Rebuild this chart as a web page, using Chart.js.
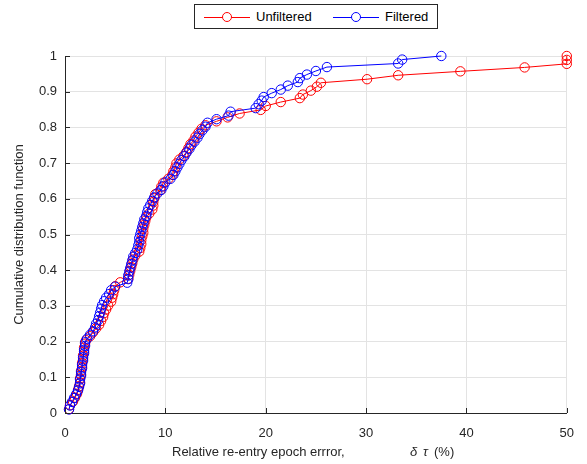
<!DOCTYPE html>
<html>
<head>
<meta charset="utf-8">
<script src="https://cdn.jsdelivr.net/npm/chart.js@4"></script>
<style>
  body { margin: 0; background: #fff; font-family: "Liberation Sans", Arial, sans-serif; }
  #wrap { position: relative; width: 587px; height: 464px; }
  #legend { position: absolute; left: 194px; top: 4px; width: 244px; height: 25px;
            border: 1px solid #262626; background: #fff; box-sizing: border-box;
            font-size: 13px; color: #000; }
  .item { position: absolute; top: 0; height: 23px; line-height: 23px; }
  .swatch { position: absolute; top: 12px; width: 46px; height: 1px; }
  .dot { position: absolute; left: 18px; top: -5px; width: 10px; height: 10px;
         border-radius: 50%; background: #fff; box-sizing: border-box; border: 1px solid; }
  .label { position: absolute; left: 52px; top: 0; white-space: nowrap; }
</style>
</head>
<body>
<div id="wrap">
  <canvas id="chart" width="587" height="464"></canvas>
  <div id="legend">
    <div class="item" style="left:9px">
      <div class="swatch" style="background:#ff0000"><div class="dot" style="border-color:#ff0000"></div></div>
      <span class="label">Unfiltered</span>
    </div>
    <div class="item" style="left:138px">
      <div class="swatch" style="background:#0000ff"><div class="dot" style="border-color:#0000ff"></div></div>
      <span class="label">Filtered</span>
    </div>
  </div>
</div>
<script>
// tick values
const xTicks = [0, 10, 20, 30, 40, 50];
const yTicks = [0, 0.1, 0.2, 0.3, 0.4, 0.5, 0.6, 0.7, 0.8, 0.9, 1];

// unfiltered error samples (%) and their CDF level
const unfilteredX = [0.4,0.5,0.8,1.0,1.2,1.3,1.4,1.5,1.5,1.6,
  1.6,1.7,1.7,1.8,1.8,1.9,1.9,2.0,2.1,2.5,
  2.8,3.1,3.4,3.6,3.8,3.9,4.1,4.3,4.6,4.7,
  4.8,4.9,5.0,5.5,6.3,6.4,6.5,6.6,6.7,6.8,
  7.0,7.4,7.5,7.6,7.6,7.7,7.8,7.8,7.9,8.0,
  8.1,8.4,8.7,8.8,8.8,8.9,9.0,9.5,9.6,9.8,
  10.3,10.7,10.8,11.0,11.1,11.4,11.8,12.1,12.3,12.5,
  12.8,13.0,13.3,13.6,14.0,15.1,16.2,17.4,19.5,20.0,
  21.5,23.4,23.7,24.5,25.1,25.5,30.1,33.2,39.4,45.8,
  50,50,50];
const unfilteredY = [0.011,0.022,0.032,0.043,0.054,0.065,0.075,0.086,0.097,0.108,
  0.118,0.129,0.140,0.151,0.161,0.172,0.183,0.194,0.204,0.215,
  0.226,0.237,0.247,0.258,0.269,0.280,0.290,0.301,0.312,0.323,
  0.333,0.344,0.355,0.366,0.376,0.387,0.398,0.409,0.419,0.430,
  0.441,0.452,0.462,0.473,0.484,0.495,0.505,0.516,0.527,0.538,
  0.548,0.559,0.570,0.581,0.591,0.602,0.613,0.624,0.634,0.645,
  0.656,0.667,0.677,0.688,0.699,0.710,0.720,0.731,0.742,0.753,
  0.763,0.774,0.785,0.796,0.806,0.817,0.828,0.839,0.849,0.860,
  0.871,0.882,0.892,0.903,0.914,0.925,0.935,0.946,0.957,0.968,
  0.978,0.989,1.000];

// filtered error samples (%) and their CDF level
const filteredX = [0.4,0.5,0.7,0.9,1.1,1.3,1.4,1.5,1.5,1.6,
  1.6,1.7,1.7,1.8,1.8,1.9,1.9,2.0,2.0,2.2,
  2.5,2.8,3.0,3.1,3.3,3.4,3.5,3.6,3.7,3.9,
  4.1,4.4,4.6,5.0,6.2,6.3,6.3,6.4,6.5,6.6,
  6.7,6.8,7.0,7.2,7.3,7.4,7.4,7.5,7.6,7.7,
  7.8,7.9,8.1,8.2,8.3,8.5,8.7,8.9,9.2,9.6,
  9.8,10.0,10.5,10.8,11.0,11.2,11.4,11.6,11.9,12.1,
  12.4,12.6,12.9,13.2,13.4,13.7,14.0,14.2,15.1,16.3,
  16.5,19.0,19.3,19.6,19.8,20.6,21.5,22.2,23.2,23.4,
  24.1,25.0,26.1,33.2,33.6,37.5];
const filteredY = [0.010,0.021,0.031,0.042,0.052,0.063,0.073,0.083,0.094,0.104,
  0.115,0.125,0.135,0.146,0.156,0.167,0.177,0.188,0.198,0.208,
  0.219,0.229,0.240,0.250,0.260,0.271,0.281,0.292,0.302,0.313,
  0.323,0.333,0.344,0.354,0.365,0.375,0.385,0.396,0.406,0.417,
  0.427,0.438,0.448,0.458,0.469,0.479,0.490,0.500,0.510,0.521,
  0.531,0.542,0.552,0.563,0.573,0.583,0.594,0.604,0.615,0.625,
  0.635,0.646,0.656,0.667,0.677,0.688,0.698,0.708,0.719,0.729,
  0.740,0.750,0.760,0.771,0.781,0.792,0.802,0.813,0.823,0.833,
  0.844,0.854,0.865,0.875,0.885,0.896,0.906,0.917,0.927,0.938,
  0.948,0.958,0.969,0.979,0.990,1.000];

const FONT = '"Liberation Sans", Arial, sans-serif';
const AXIS = '#262626';
const GRID = '#e3e3e3';

function pairs(xs, ys) {
  return xs.map((x, i) => ({ x: x, y: ys[i] }));
}

// MATLAB-like inward ticks and the mixed-style x label
const extras = {
  id: 'extras',
  afterDraw(chart) {
    const ctx = chart.ctx;
    const xs = chart.scales.x, ys = chart.scales.y;
    const a = chart.chartArea;
    ctx.save();
    ctx.strokeStyle = AXIS;
    ctx.lineWidth = 1;
    ctx.beginPath();
    xTicks.forEach(v => {
      const px = Math.round(xs.getPixelForValue(v)) + 0.5;
      ctx.moveTo(px, a.bottom);
      ctx.lineTo(px, a.bottom - 5);
    });
    yTicks.forEach(v => {
      const py = Math.round(ys.getPixelForValue(v)) + 0.5;
      ctx.moveTo(a.left, py);
      ctx.lineTo(a.left + 5, py);
    });
    ctx.stroke();

    ctx.fillStyle = AXIS;
    ctx.textBaseline = 'middle';
    ctx.textAlign = 'left';
    const y = 452;
    ctx.font = '13px ' + FONT;
    ctx.fillText('Relative re-entry epoch errror,', 172, y);
    ctx.font = 'italic 13px ' + FONT;
    ctx.fillText('\u03b4', 410, y);
    ctx.fillText('\u03c4', 423, y);
    ctx.font = '13px ' + FONT;
    ctx.fillText('(%)', 434, y);
    ctx.restore();
  }
};

new Chart(document.getElementById('chart'), {
  type: 'scatter',
  data: {
    datasets: [
      {
        label: 'Filtered',
        data: pairs(filteredX, filteredY),
        showLine: true,
        borderColor: '#0000ff',
        borderWidth: 1,
        pointStyle: 'circle',
        pointRadius: 4.7,
        pointBorderWidth: 1,
        pointBorderColor: '#0000ff',
        pointBackgroundColor: 'rgba(0,0,0,0)',
        clip: false,
        order: 1
      },
      {
        label: 'Unfiltered',
        data: pairs(unfilteredX, unfilteredY),
        showLine: true,
        borderColor: '#ff0000',
        borderWidth: 1,
        pointStyle: 'circle',
        pointRadius: 4.7,
        pointBorderWidth: 1,
        pointBorderColor: '#ff0000',
        pointBackgroundColor: 'rgba(0,0,0,0)',
        clip: false,
        order: 2
      }
    ]
  },
  options: {
    responsive: false,
    animation: false,
    layout: { padding: { left: 12, right: 17, top: 56, bottom: 0 } },
    plugins: { legend: { display: false }, tooltip: { enabled: false } },
    scales: {
      x: {
        type: 'linear',
        min: 0, max: 50,
        afterBuildTicks: s => { s.ticks = xTicks.map(v => ({ value: v })); },
        afterFit: s => { s.height = 51; },
        grid: { color: GRID, drawTicks: false },
        border: { color: AXIS, width: 1 },
        ticks: { color: AXIS, font: { family: FONT, size: 13 }, padding: 13, maxRotation: 0 }
      },
      y: {
        type: 'linear',
        min: 0, max: 1,
        afterBuildTicks: s => { s.ticks = yTicks.map(v => ({ value: v })); },
        afterFit: s => { s.width = 53; },
        grid: { color: GRID, drawTicks: false },
        border: { color: AXIS, width: 1 },
        ticks: {
          color: AXIS, font: { family: FONT, size: 13 }, padding: 8,
          callback: v => String(Number(v.toFixed(1)))
        },
        title: {
          display: true,
          text: 'Cumulative distribution function',
          color: AXIS,
          font: { family: FONT, size: 13 },
          padding: { top: 0, bottom: 0 }
        }
      }
    }
  },
  plugins: [extras]
});
</script>
</body>
</html>
